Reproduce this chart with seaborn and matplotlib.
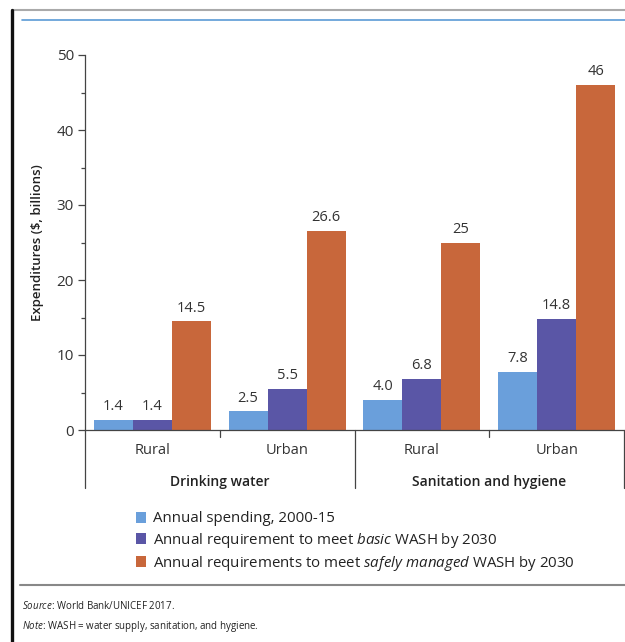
import matplotlib
matplotlib.use("Agg")
import matplotlib.pyplot as plt
from matplotlib.lines import Line2D
from matplotlib.patches import Patch
import seaborn as sns
import pandas as pd

# ---- data ----
groups = ["Drinking water", "Drinking water", "Sanitation and hygiene", "Sanitation and hygiene"]
areas = ["Rural", "Urban", "Rural", "Urban"]
series_names = [
    "Annual spending, 2000-15",
    "Annual requirement to meet basic WASH by 2030",
    "Annual requirements to meet safely managed WASH by 2030",
]
legend_labels = [
    "Annual spending, 2000-15",
    r"Annual requirement to meet $\mathit{basic}$ WASH by 2030",
    r"Annual requirements to meet $\mathit{safely\ managed}$ WASH by 2030",
]
spending = [1.4, 2.5, 4.0, 7.8]
basic = [1.4, 5.5, 6.8, 14.8]
safely = [14.5, 26.6, 25.0, 46.0]
value_labels = [
    ["1.4", "2.5", "4.0", "7.8"],
    ["1.4", "5.5", "6.8", "14.8"],
    ["14.5", "26.6", "25", "46"],
]
colors = ["#6A9FDB", "#5A56A6", "#C8673B"]

sns.set_theme(style="white")
plt.rcParams["font.family"] = ["Open Sans", "DejaVu Sans"]
plt.rcParams["mathtext.fontset"] = "custom"
plt.rcParams["mathtext.rm"] = "Open Sans"
plt.rcParams["mathtext.it"] = "Open Sans:italic"

cat_ids = [f"{g}|{a}" for g, a in zip(groups, areas)]
rows = []
for sname, vals in zip(series_names, [spending, basic, safely]):
    for cid, v in zip(cat_ids, vals):
        rows.append({"cat": cid, "series": sname, "value": v})
df = pd.DataFrame(rows)

W, H = 625, 642
fig = plt.figure(figsize=(W / 100, H / 100), dpi=100)
ax = fig.add_axes([85 / W, (H - 430) / H, (624 - 85) / W, 375 / H])

sns.barplot(data=df, x="cat", y="value", hue="series", order=cat_ids,
            hue_order=series_names, palette=colors, width=0.867, gap=0,
            saturation=1, ax=ax, legend=False, errorbar=None, linewidth=0)

for cont, labs in zip(ax.containers, value_labels):
    ax.bar_label(cont, labels=labs, padding=4, fontsize=10.5, color="#333333")

ax.set_ylim(0, 50)
ax.set_xlim(-0.5, 3.5)
ax.set_yticks([0, 10, 20, 30, 40, 50])
ax.set_yticks([5, 15, 25, 35, 45], minor=True)
ax.tick_params(axis="y", which="major", length=5, width=0.9, color="#444444",
               labelsize=11, labelcolor="#333333", left=True, pad=3)
ax.tick_params(axis="y", which="minor", length=3, width=0.9, color="#444444", left=True)
ax.set_xticks([])
ax.set_xlabel("")
ax.set_ylabel("Expenditures ($, billions)", fontsize=9.5, color="#222222",
              labelpad=9, fontweight="semibold")

for side in ["top", "right"]:
    ax.spines[side].set_visible(False)
ax.spines["left"].set_color("#444444")
ax.spines["bottom"].set_color("#444444")
ax.spines["left"].set_linewidth(0.9)
ax.spines["bottom"].set_linewidth(0.9)

trans = ax.get_xaxis_transform()
depth = -58 / 375
for xpos in [-0.5, 1.5, 3.5]:
    ax.plot([xpos, xpos], [0, depth], transform=trans, clip_on=False,
            color="#444444", lw=0.9)
for xpos in [0.5, 2.5]:
    ax.plot([xpos, xpos], [0, -7 / 375], transform=trans, clip_on=False,
            color="#444444", lw=0.9)

for i, a in enumerate(areas):
    ax.text(i, -20 / 375, a, transform=trans, ha="center", va="center",
            fontsize=10.5, color="#333333")
for gx, g in [(0.5, "Drinking water"), (2.5, "Sanitation and hygiene")]:
    ax.text(gx, -52 / 375, g, transform=trans, ha="center", va="center",
            fontsize=10, color="#222222", fontweight="semibold")

handles = [Patch(facecolor=c, edgecolor="none") for c in colors]
fig.legend(handles, legend_labels, loc="upper left",
           bbox_to_anchor=(128 / W, (H - 504) / H), frameon=False,
           fontsize=10.8, handlelength=0.7, handleheight=0.7,
           handletextpad=0.45, labelspacing=0.28, borderpad=0,
           labelcolor="#222222")

# decorative frame lines
fig.add_artist(Line2D([12 / W, 1], [(H - 10) / H] * 2, color="#aaaaaa", lw=1.5))
fig.add_artist(Line2D([22 / W, 1], [(H - 20) / H] * 2, color="#5B9BD5", lw=1.2))
fig.add_artist(Line2D([12 / W] * 2, [0, (H - 10) / H], color="#111111", lw=2.4))
fig.add_artist(Line2D([20 / W, 1], [(H - 585) / H] * 2, color="#888888", lw=1.5))

fig.text(22 / W, (H - 606) / H, r"$\mathit{Source}$: World Bank/UNICEF 2017.",
         fontsize=7, color="#222222", va="center")
fig.text(22 / W, (H - 626) / H,
         r"$\mathit{Note}$: WASH = water supply, sanitation, and hygiene.",
         fontsize=7, color="#222222", va="center")

fig.savefig("out.png", dpi=100)
